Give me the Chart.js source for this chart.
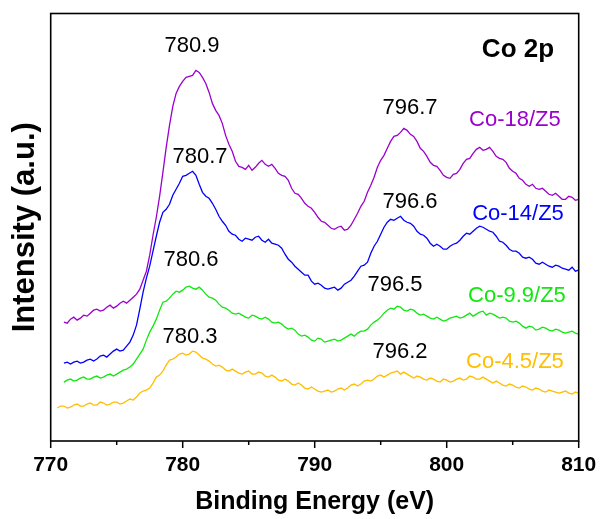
<!DOCTYPE html>
<html>
<head>
<meta charset="utf-8">
<script src="https://cdn.jsdelivr.net/npm/chart.js@4.4.1/dist/chart.umd.min.js"></script>
<style>
html,body{margin:0;padding:0;background:#fff;}
#wrap{width:600px;height:519px;}
</style>
</head>
<body>
<div id="wrap"><canvas id="c" width="600" height="519"></canvas></div>
<script>
// Binding energy grid (eV)
const energies = [770.5,770.75,771,771.25,771.5,771.75,772,772.25,772.5,772.75,773,773.25,773.5,773.75,774,774.25,774.5,774.75,775,775.25,775.5,775.75,776,776.25,776.5,776.75,777,777.25,777.5,777.75,778,778.25,778.5,778.75,779,779.25,779.5,779.75,780,780.25,780.5,780.75,781,781.25,781.5,781.75,782,782.25,782.5,782.75,783,783.25,783.5,783.75,784,784.25,784.5,784.75,785,785.25,785.5,785.75,786,786.25,786.5,786.75,787,787.25,787.5,787.75,788,788.25,788.5,788.75,789,789.25,789.5,789.75,790,790.25,790.5,790.75,791,791.25,791.5,791.75,792,792.25,792.5,792.75,793,793.25,793.5,793.75,794,794.25,794.5,794.75,795,795.25,795.5,795.75,796,796.25,796.5,796.75,797,797.25,797.5,797.75,798,798.25,798.5,798.75,799,799.25,799.5,799.75,800,800.25,800.5,800.75,801,801.25,801.5,801.75,802,802.25,802.5,802.75,803,803.25,803.5,803.75,804,804.25,804.5,804.75,805,805.25,805.5,805.75,806,806.25,806.5,806.75,807,807.25,807.5,807.75,808,808.25,808.5,808.75,809,809.25,809.5,809.75,810];

// Intensities (a.u., offset-stacked as in the figure)
const co18 = [null,null,119,118,122,124,121,123,126,125,128,131,132,130,131,134,136,133,135,138,140,138,141,144,147,152,161,170,186,206,224,245,269,294,316,335,348,355,360,364,365,366,371,369,364,358,349,338,331,326,318,306,297,290,280,275,274,272,276,271,274,278,281,277,275,277,273,268,266,265,261,253,248,247,243,238,235,233,229,224,220,219,216,213,212,214,215,211,212,216,222,228,235,240,249,256,264,274,281,286,293,300,305,306,309,313,311,307,305,300,293,290,285,279,276,275,271,266,264,263,267,268,272,278,282,283,288,292,294,291,292,294,290,285,283,282,279,273,270,268,263,261,257,255,257,253,252,253,250,247,246,248,245,242,242,245,244,241,242];
const co14 = [null,null,78,79,77,79,80,78,79,81,82,80,82,85,86,84,87,90,92,90,91,95,99,106,116,132,149,163,175,190,205,219,229,232,237,246,252,258,265,266,268,270,266,257,249,245,243,238,232,225,220,216,210,207,206,202,200,203,202,201,204,205,201,199,202,198,197,196,193,187,182,179,175,172,169,166,166,160,157,158,156,153,152,153,154,151,153,157,159,161,165,170,175,176,179,188,195,200,207,214,219,222,221,223,225,221,219,218,215,210,207,206,203,198,195,197,195,192,192,195,197,198,201,205,208,207,210,213,215,214,212,210,209,205,200,199,196,192,190,190,188,184,183,184,182,178,177,179,177,175,174,176,175,173,172,171,174,170,171];
const co99 = [null,null,59,61,62,60,61,63,64,62,62,64,65,63,64,66,67,65,67,69,71,72,74,77,82,87,92,101,109,115,122,131,139,140,143,147,150,149,151,154,155,153,152,154,151,147,144,143,141,137,134,133,131,128,127,128,126,124,123,126,125,123,122,124,122,119,118,119,117,114,112,113,111,107,105,106,104,101,100,103,102,99,100,101,102,100,101,103,105,107,105,108,110,110,112,116,119,121,124,128,131,133,132,135,134,131,130,132,131,128,126,127,125,123,122,124,122,120,121,123,124,125,123,124,126,128,125,127,129,130,126,128,127,125,123,124,123,120,119,120,118,115,113,115,114,111,112,114,113,111,110,112,111,109,108,109,110,108,107];
const co45 = [33,35,35,33,34,36,37,35,35,37,38,36,36,39,38,36,37,39,39,37,38,40,42,41,44,48,50,51,53,58,64,66,70,76,81,82,84,87,88,86,87,90,89,86,83,82,80,77,75,76,74,71,70,72,70,68,67,69,70,67,67,69,68,65,64,66,64,61,60,62,60,57,56,58,56,53,52,54,52,50,49,50,51,49,50,52,53,51,53,56,57,55,57,60,61,60,62,65,66,64,66,68,69,70,67,69,67,65,63,65,64,62,61,63,62,60,59,62,61,59,60,62,63,61,62,65,64,62,62,64,62,60,58,60,58,56,55,57,56,54,53,55,54,52,51,53,52,50,49,51,50,49,48,49,50,48,47,49,48];

const seriesNames = ['Co-18/Z5','Co-14/Z5','Co-9.9/Z5','Co-4.5/Z5'];
const seriesColors = ['#9B00CC','#0000FF','#11E811','#FFBE00'];
const seriesValues = [co18, co14, co99, co45];

// Peak annotations: label, energy, intensity position
const peakLabels = ['780.9','780.7','780.6','780.3','796.7','796.6','796.5','796.2'];
const peakX = [780.70,781.31,780.63,780.55,797.22,797.22,796.08,796.46];
const peakY = [396,284,181,104,333,239,156,89];
// Series name labels placed near the curves
const nameX = [805.17,805.40,805.32,805.17];
const nameY = [321,227,145,79];
const panelTitle = 'Co 2p';
const panelX = 805.40, panelY = 392;

const xTicksMajor = [770,780,790,800,810];

const datasets = seriesValues.map((vals, k) => ({
  label: seriesNames[k],
  data: energies.map((e, i) => ({x: e, y: vals[i] === undefined ? null : vals[i]})).filter(p => p.y !== null),
  borderColor: seriesColors[k],
  backgroundColor: seriesColors[k],
  borderWidth: 1.3,
  pointRadius: 0,
  tension: 0,
  fill: false
}));

const FONT = "'Liberation Sans', Arial, sans-serif";

const decor = {
  id: 'decor',
  afterDraw(chart) {
    const {ctx, chartArea: a, scales: {x, y}} = chart;
    ctx.save();
    // frame
    ctx.strokeStyle = '#000';
    ctx.lineWidth = 1.6;
    ctx.strokeRect(a.left, a.top, a.right - a.left, a.bottom - a.top);
    // ticks
    ctx.lineWidth = 1.5;
    for (let v = 770; v <= 810; v += 5) {
      const px = x.getPixelForValue(v);
      const len = (v % 10 === 0) ? 7 : 4;
      ctx.beginPath();
      ctx.moveTo(px, a.bottom);
      ctx.lineTo(px, a.bottom + len);
      ctx.stroke();
    }
    // peak labels
    ctx.fillStyle = '#000';
    ctx.textAlign = 'center';
    ctx.textBaseline = 'middle';
    ctx.font = '22px ' + FONT;
    peakLabels.forEach((t, i) => {
      ctx.fillText(t, x.getPixelForValue(peakX[i]), y.getPixelForValue(peakY[i]));
    });
    // series names
    seriesNames.forEach((t, i) => {
      ctx.fillStyle = seriesColors[i];
      ctx.fillText(t, x.getPixelForValue(nameX[i]), y.getPixelForValue(nameY[i]));
    });
    // panel title
    ctx.fillStyle = '#000';
    ctx.font = 'bold 26px ' + FONT;
    ctx.fillText(panelTitle, x.getPixelForValue(panelX), y.getPixelForValue(panelY));
    ctx.restore();
  }
};

new Chart(document.getElementById('c'), {
  type: 'line',
  data: {datasets},
  options: {
    responsive: false,
    animation: false,
    devicePixelRatio: 1,
    layout: {padding: {top: 13.5, right: 21.3, left: 0, bottom: 0}},
    plugins: {legend: {display: false}, tooltip: {enabled: false}},
    scales: {
      x: {
        type: 'linear',
        min: 770, max: 810,
        ticks: {
          stepSize: 5,
          color: '#000',
          padding: 12,
          maxRotation: 0,
          font: {family: FONT, size: 21, weight: 'bold'},
          callback: (v) => xTicksMajor.includes(v) ? String(v) : ''
        },
        grid: {display: false, drawTicks: false},
        border: {display: false},
        title: {display: true, text: 'Binding Energy (eV)', color: '#000',
          font: {family: FONT, size: 25, weight: 'bold'}, padding: {top: 0, bottom: 2}},
        afterFit(s) { s.height = 78; s.paddingLeft = 0; s.paddingRight = 0; s.paddingTop = 0; s.paddingBottom = 0; }
      },
      y: {
        min: 0, max: 428,
        ticks: {display: false},
        grid: {display: false, drawTicks: false},
        border: {display: false},
        title: {display: true, text: 'Intensity (a.u.)', color: '#000',
          font: {family: FONT, size: 31, weight: 'bold'}, padding: {top: 7, bottom: 0}},
        afterFit(s) { s.width = 50.7; s.paddingLeft = 0; s.paddingRight = 0; s.paddingTop = 0; s.paddingBottom = 0; }
      }
    }
  },
  plugins: [decor]
});
</script>
</body>
</html>
